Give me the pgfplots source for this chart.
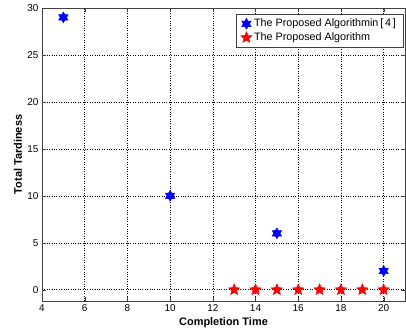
\documentclass[border=0pt]{standalone}
\usepackage{fontspec}
\setmainfont{Liberation Sans}
\usepackage{pgfplots}
\pgfplotsset{compat=1.18}
\pgfdeclareplotmark{hexa}{%
  \pgfpathmoveto{\pgfqpointpolar{90}{\pgfplotmarksize}}%
  \pgfpathlineto{\pgfqpointpolar{210}{\pgfplotmarksize}}%
  \pgfpathlineto{\pgfqpointpolar{330}{\pgfplotmarksize}}%
  \pgfpathclose
  \pgfpathmoveto{\pgfqpointpolar{270}{\pgfplotmarksize}}%
  \pgfpathlineto{\pgfqpointpolar{30}{\pgfplotmarksize}}%
  \pgfpathlineto{\pgfqpointpolar{150}{\pgfplotmarksize}}%
  \pgfpathclose
  \pgfusepathqfillstroke}
\pgfdeclareplotmark{fstar}{%
  \pgfpathmoveto{\pgfqpointpolar{90}{\pgfplotmarksize}}%
  \pgfpathlineto{\pgfqpointpolar{126}{0.45\pgfplotmarksize}}%
  \pgfpathlineto{\pgfqpointpolar{162}{\pgfplotmarksize}}%
  \pgfpathlineto{\pgfqpointpolar{198}{0.45\pgfplotmarksize}}%
  \pgfpathlineto{\pgfqpointpolar{234}{\pgfplotmarksize}}%
  \pgfpathlineto{\pgfqpointpolar{270}{0.45\pgfplotmarksize}}%
  \pgfpathlineto{\pgfqpointpolar{306}{\pgfplotmarksize}}%
  \pgfpathlineto{\pgfqpointpolar{342}{0.45\pgfplotmarksize}}%
  \pgfpathlineto{\pgfqpointpolar{18}{\pgfplotmarksize}}%
  \pgfpathlineto{\pgfqpointpolar{54}{0.45\pgfplotmarksize}}%
  \pgfpathclose
  \pgfusepathqfillstroke}
\begin{document}
\begin{tikzpicture}
\useasboundingbox (-42bp,-33bp) rectangle (364bp,301bp);
\begin{axis}[
  at={(0,0)}, anchor=south west,
  scale only axis,
  width=363bp, height=293bp,
  xmin=4, xmax=21, ymin=-1.2, ymax=30,
  xtick={4,6,...,20}, ytick={0,5,...,30},
  grid=major,
  grid style={dash pattern=on 0.6pt off 1.8pt, black, line width=0.5pt},
  axis line style={black!75},
  tick style={black!75},
  tick align=inside,
  tick label style={font=\fontsize{10}{12}\selectfont},
  /pgf/number format/assume math mode=true,
  xlabel={\textbf{Completion Time}},
  ylabel={\textbf{Total Tardiness}},
  label style={font=\fontsize{11}{13}\selectfont},
  xlabel style={at={(axis description cs:0.5,0)}, anchor=center, yshift=-22bp},
  ylabel style={at={(axis description cs:0,0.5)}, anchor=center, yshift=24bp},
  legend style={at={(0.9945,0.9795)}, anchor=north east, font=\fontsize{10.8}{12}\selectfont, draw=black!75, row sep=0.5pt, inner xsep=5pt, inner ysep=3pt},
  legend cell align=left,
]
\addplot[only marks, color=blue, mark=hexa, mark size=5.5pt, mark options={fill=blue, draw=blue}] coordinates {(5,29) (10,10) (15,6) (20,2)};
\addlegendentry{The Proposed Algorithmin\,[\,4\,]}
\addplot[only marks, color=red, mark=fstar, mark size=6pt, mark options={draw=red, fill=red}] coordinates {(13,0) (14,0) (15,0) (16,0) (17,0) (18,0) (19,0) (20,0)};
\addlegendentry{The Proposed Algorithm}
\end{axis}
\end{tikzpicture}
\end{document}
